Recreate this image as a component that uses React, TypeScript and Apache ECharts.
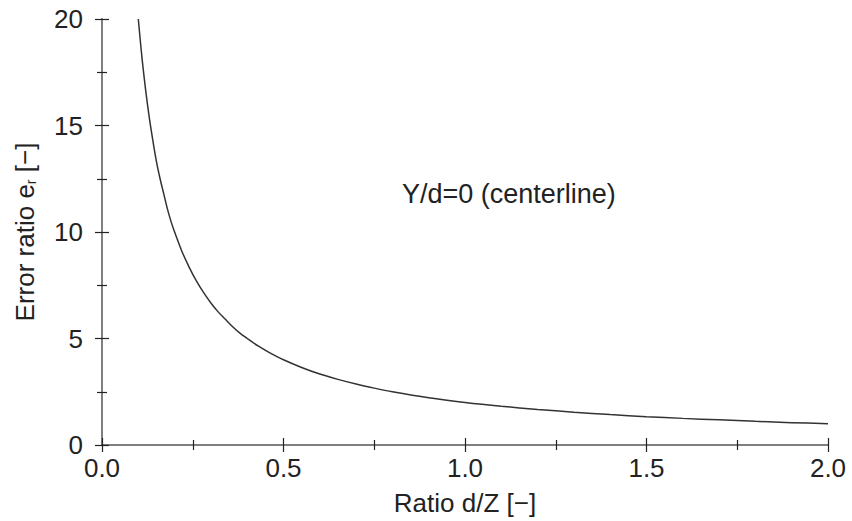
import React, { useEffect, useRef } from "react";
import * as echarts from "echarts";

const ratioDZ = [0.1, 0.11, 0.12, 0.13, 0.14, 0.15, 0.16, 0.17, 0.18, 0.19, 0.2, 0.22, 0.24, 0.26, 0.28, 0.3, 0.32, 0.34, 0.36, 0.38, 0.4, 0.43, 0.46, 0.5, 0.55, 0.6, 0.65, 0.7, 0.75, 0.8, 0.9, 1.0, 1.1, 1.2, 1.3, 1.4, 1.5, 1.6, 1.7, 1.8, 1.9, 2.0];
const errorRatio = [20, 18.2, 16.7, 15.4, 14.3, 13.3, 12.5, 11.8, 11.1, 10.5, 10, 9.1, 8.35, 7.7, 7.15, 6.67, 6.25, 5.9, 5.55, 5.25, 5, 4.65, 4.35, 4, 3.64, 3.33, 3.08, 2.86, 2.67, 2.5, 2.22, 2, 1.82, 1.67, 1.54, 1.43, 1.33, 1.25, 1.18, 1.11, 1.05, 1.0];
const xTicks = { min: 0, max: 2, interval: 0.5 };
const yTicks = { min: 0, max: 20, interval: 5 };
const annotation = "Y/d=0 (centerline)";
const xName = "Ratio d/Z [\u2212]";
const yName = "Error ratio e{sub|r} [\u2212]";

const FONT = "Liberation Sans, Arial, Helvetica, sans-serif";
const TXT = "#222";

export default function App() {
  const ref = useRef<HTMLDivElement>(null);
  useEffect(() => {
    document.body.style.margin = "0";
    if (!ref.current) return;
    const chart = echarts.init(ref.current, null, { renderer: "svg" });
    const data = ratioDZ.map((x, i) => [x, errorRatio[i]]);
    const baseX = {
      type: "value" as const,
      min: xTicks.min,
      max: xTicks.max,
      interval: xTicks.interval,
      splitLine: { show: false },
      axisTick: { show: true, inside: true, length: 7, lineStyle: { color: "#222", width: 1.2 } },
      minorTick: { show: true, splitNumber: 2, length: 5, lineStyle: { color: "#222", width: 1.2 } },
    };
    const baseY = {
      type: "value" as const,
      min: yTicks.min,
      max: yTicks.max,
      interval: yTicks.interval,
      splitLine: { show: false },
      axisTick: { show: true, inside: true, length: 7, lineStyle: { color: "#222", width: 1.2 } },
      minorTick: { show: true, splitNumber: 2, length: 5, lineStyle: { color: "#222", width: 1.2 } },
    };
    chart.setOption({
      animation: false,
      backgroundColor: "#fff",
      grid: { left: 102, right: 24, top: 19, bottom: 76 },
      xAxis: [
        {
          ...baseX,
          position: "bottom",
          axisLine: { show: true, lineStyle: { color: "#333", width: 1.6 } },
          axisLabel: {
            show: true,
            margin: 10,
            color: TXT,
            fontSize: 26,
            fontFamily: FONT,
            formatter: (v: number) => v.toFixed(1),
          },
          name: xName,
          nameLocation: "middle",
          nameGap: 45,
          nameTextStyle: { color: TXT, fontSize: 26, fontFamily: FONT },
        },
        {
          ...baseX,
          position: "top",
          axisLine: { show: true, lineStyle: { color: "#888", width: 1.6 } },
          axisLabel: { show: false },
        },
      ],
      yAxis: [
        {
          ...baseY,
          position: "left",
          axisLine: { show: true, lineStyle: { color: "#333", width: 1.6 } },
          axisLabel: { show: true, margin: 19, color: TXT, fontSize: 26, fontFamily: FONT },
          name: yName,
          nameLocation: "middle",
          nameRotate: 90,
          nameGap: 64,
          nameTextStyle: {
            color: TXT,
            fontSize: 26,
            fontFamily: FONT,
            rich: {
              sub: { fontSize: 14, color: TXT, fontFamily: FONT, verticalAlign: "bottom", padding: [12, 0, 0, 0] },
            },
          },
        },
        {
          ...baseY,
          position: "right",
          axisLine: { show: true, lineStyle: { color: "#888", width: 1.6 } },
          axisLabel: { show: false },
        },
      ],
      series: [
        {
          type: "line",
          xAxisIndex: 0,
          yAxisIndex: 0,
          data,
          smooth: 0.3,
          showSymbol: false,
          lineStyle: { color: "#333", width: 1.5 },
        },
      ],
      graphic: [
        {
          type: "text",
          left: 402,
          top: 180,
          style: { text: annotation, fill: TXT, font: `27px ${FONT}` },
        },
      ],
    });
    return () => chart.dispose();
  }, []);
  return <div ref={ref} style={{ width: 852, height: 521 }} />;
}
